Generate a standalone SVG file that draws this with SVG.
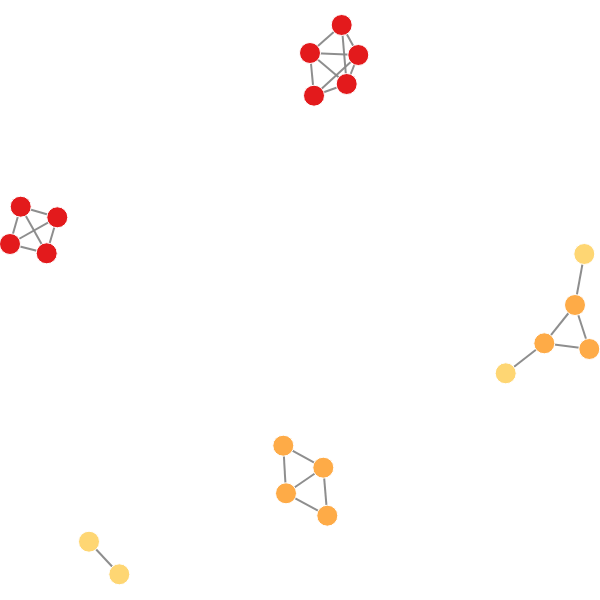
<svg xmlns="http://www.w3.org/2000/svg" width="600" height="600" viewBox="0 0 600 600">
<style>
.e{stroke:#888;stroke-width:2;stroke-opacity:0.95}
.n{stroke:#fff;stroke-width:1}
.r{fill:#e31a1c}
.o{fill:#feab47}
.y{fill:#fed673}
</style>
<rect width="600" height="600" fill="#fff"/>
<g id="links">
<line class="e" x1="341.7" y1="25" x2="310" y2="53"/>
<line class="e" x1="341.7" y1="25" x2="358.3" y2="55"/>
<line class="e" x1="341.7" y1="25" x2="346.7" y2="84"/>
<line class="e" x1="310" y1="53" x2="358.3" y2="55"/>
<line class="e" x1="310" y1="53" x2="314" y2="95.7"/>
<line class="e" x1="310" y1="53" x2="346.7" y2="84"/>
<line class="e" x1="358.3" y1="55" x2="314" y2="95.7"/>
<line class="e" x1="358.3" y1="55" x2="346.7" y2="84"/>
<line class="e" x1="346.7" y1="84" x2="314" y2="95.7"/>
<line class="e" x1="20.7" y1="206.7" x2="57.3" y2="217.3"/>
<line class="e" x1="20.7" y1="206.7" x2="10" y2="244"/>
<line class="e" x1="20.7" y1="206.7" x2="46.7" y2="253.3"/>
<line class="e" x1="57.3" y1="217.3" x2="10" y2="244"/>
<line class="e" x1="57.3" y1="217.3" x2="46.7" y2="253.3"/>
<line class="e" x1="10" y1="244" x2="46.7" y2="253.3"/>
<line class="e" x1="584.3" y1="254" x2="575" y2="305"/>
<line class="e" x1="575" y1="305" x2="544.3" y2="343.3"/>
<line class="e" x1="575" y1="305" x2="589.3" y2="349"/>
<line class="e" x1="544.3" y1="343.3" x2="589.3" y2="349"/>
<line class="e" x1="544.3" y1="343.3" x2="505.7" y2="373.3"/>
<line class="e" x1="283.3" y1="445.7" x2="323.3" y2="467.7"/>
<line class="e" x1="283.3" y1="445.7" x2="286" y2="493.3"/>
<line class="e" x1="323.3" y1="467.7" x2="286" y2="493.3"/>
<line class="e" x1="323.3" y1="467.7" x2="327.3" y2="515.7"/>
<line class="e" x1="286" y1="493.3" x2="327.3" y2="515.7"/>
<line class="e" x1="89" y1="541.7" x2="119.3" y2="574.3"/>
</g>
<g id="n1"><circle class="n r" cx="341.7" cy="25" r="10.5"/></g>
<g id="n2"><circle class="n r" cx="310" cy="53" r="10.5"/></g>
<g id="n3"><circle class="n r" cx="358.3" cy="55" r="10.5"/></g>
<g id="n4"><circle class="n r" cx="346.7" cy="84" r="10.5"/></g>
<g id="n5"><circle class="n r" cx="314" cy="95.7" r="10.5"/></g>
<g id="n6"><circle class="n r" cx="20.7" cy="206.7" r="10.5"/></g>
<g id="n7"><circle class="n r" cx="57.3" cy="217.3" r="10.5"/></g>
<g id="n8"><circle class="n r" cx="10" cy="244" r="10.5"/></g>
<g id="n9"><circle class="n r" cx="46.7" cy="253.3" r="10.5"/></g>
<g id="n10"><circle class="n y" cx="584.3" cy="254" r="10.5"/></g>
<g id="n11"><circle class="n o" cx="575" cy="305" r="10.5"/></g>
<g id="n12"><circle class="n o" cx="544.3" cy="343.3" r="10.5"/></g>
<g id="n13"><circle class="n o" cx="589.3" cy="349" r="10.5"/></g>
<g id="n14"><circle class="n y" cx="505.7" cy="373.3" r="10.5"/></g>
<g id="n15"><circle class="n o" cx="283.3" cy="445.7" r="10.5"/></g>
<g id="n16"><circle class="n o" cx="323.3" cy="467.7" r="10.5"/></g>
<g id="n17"><circle class="n o" cx="286" cy="493.3" r="10.5"/></g>
<g id="n18"><circle class="n o" cx="327.3" cy="515.7" r="10.5"/></g>
<g id="n19"><circle class="n y" cx="89" cy="541.7" r="10.5"/></g>
<g id="n20"><circle class="n y" cx="119.3" cy="574.3" r="10.5"/></g>
</svg>
